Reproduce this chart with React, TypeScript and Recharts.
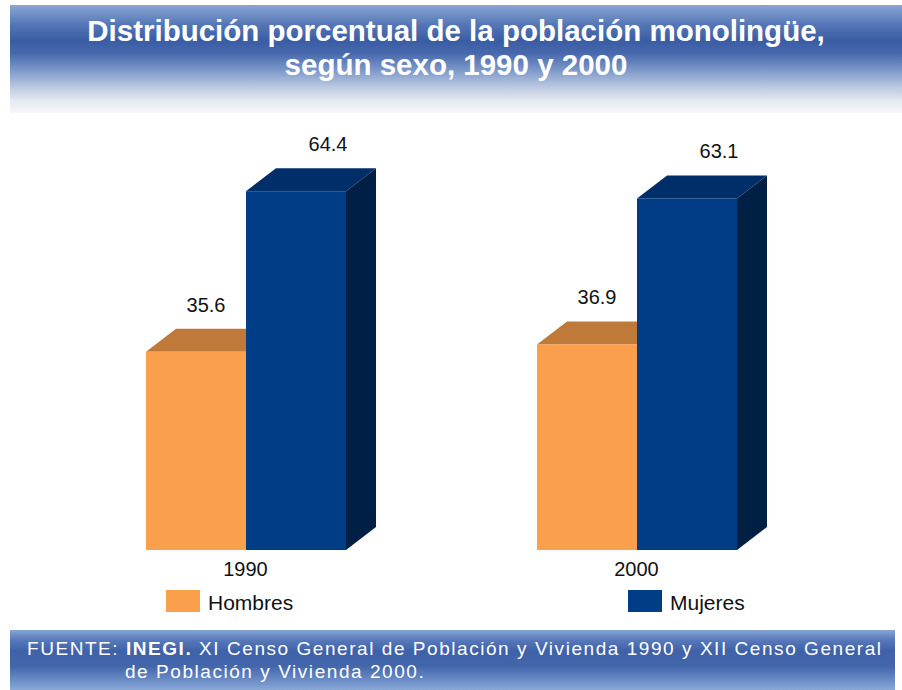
import React from "react";
import { BarChart, Bar, XAxis, YAxis, LabelList } from "recharts";

// years on the x axis
const years = ["1990", "2000"];
// percentage of monolingual population by sex
const hombres = [35.6, 36.9];
const mujeres = [64.4, 63.1];

const seriesNames = { hombres: "Hombres", mujeres: "Mujeres" };

const data = years.map((year, i) => ({
  year,
  hombres: hombres[i],
  mujeres: mujeres[i],
}));

const FONT = "'Liberation Sans', Arial, sans-serif";
const DEPTH_X = 30;
const DEPTH_Y = 23;

const palette = {
  hombres: { front: "#FA9F4B", top: "#BF7A3A", side: "#A8662C" },
  mujeres: { front: "#003D87", top: "#002E68", side: "#001F45" },
};

function make3DBar(colors: { front: string; top: string; side: string }) {
  return (props: any) => {
    const { x, y, width, height } = props;
    if (!height || height <= 0) return <g />;
    const top = `M${x},${y} L${x + DEPTH_X},${y - DEPTH_Y} L${x + width + DEPTH_X},${y - DEPTH_Y} L${x + width},${y} Z`;
    const side = `M${x + width},${y} L${x + width + DEPTH_X},${y - DEPTH_Y} L${x + width + DEPTH_X},${y + height - DEPTH_Y} L${x + width},${y + height} Z`;
    return (
      <g>
        <path d={side} fill={colors.side} />
        <path d={top} fill={colors.top} />
        <rect x={x} y={y} width={width} height={height} fill={colors.front} />
      </g>
    );
  };
}

function valueLabel(dx: number) {
  return (props: any) => {
    const { x, y, width, value } = props;
    return (
      <text
        x={x + width / 2 + dx}
        y={y - 40}
        textAnchor="middle"
        fontSize={20}
        fontFamily={FONT}
        fill="#111"
      >
        {value}
      </text>
    );
  };
}

function LegendBox() {
  const items = [
    { name: seriesNames.hombres, color: palette.hombres.front, left: 166, textLeft: 208 },
    { name: seriesNames.mujeres, color: palette.mujeres.front, left: 628, textLeft: 670 },
  ];
  return (
    <div style={{ position: "absolute", left: 0, top: 590, width: 902, height: 30 }}>
      {items.map((it) => (
        <React.Fragment key={it.name}>
          <div
            style={{
              position: "absolute",
              left: it.left,
              top: 0,
              width: 34,
              height: 22,
              background: it.color,
            }}
          />
          <div
            style={{
              position: "absolute",
              left: it.textLeft,
              top: 1,
              fontSize: 21,
              lineHeight: "24px",
              fontFamily: FONT,
              color: "#111",
            }}
          >
            {it.name}
          </div>
        </React.Fragment>
      ))}
    </div>
  );
}

export default function App() {
  return (
    <div
      style={{
        position: "absolute",
        left: 0,
        top: 0,
        width: 902,
        height: 690,
        background: "#fff",
        fontFamily: FONT,
        overflow: "hidden",
      }}
    >
      <div
        style={{
          position: "absolute",
          left: 10,
          top: 5,
          width: 892,
          height: 108,
          background:
            "linear-gradient(to bottom, #8aa6d2 0%, #5577b6 18%, #3a5ca3 33%, #4869ad 45%, #7b97c9 60%, #b7c6e0 75%, #e4e8f0 88%, #f7f7f7 100%)",
        }}
      />
      <div
        style={{
          position: "absolute",
          left: 10,
          top: 14,
          width: 892,
          textAlign: "center",
          color: "#fff",
          fontWeight: "bold",
          fontSize: 29.5,
          lineHeight: "34px",
        }}
      >
        Distribución porcentual de la población monolingüe,
        <br />
        según sexo, 1990 y 2000
      </div>

      <div style={{ position: "absolute", left: 0, top: 0 }}>
        <BarChart
          width={902}
          height={690}
          data={data}
          margin={{ top: 160, right: 70, left: 50, bottom: 110 }}
          barGap={0}
          barSize={100}
        >
          <XAxis
            dataKey="year"
            axisLine={false}
            tickLine={false}
            height={30}
            tickMargin={6}
            tick={{ fontSize: 20, fontFamily: FONT, fill: "#111" }}
          />
          <YAxis hide domain={[0, 70]} />
          <Bar
            dataKey="hombres"
            name={seriesNames.hombres}
            shape={make3DBar(palette.hombres)}
            isAnimationActive={false}
          >
            <LabelList dataKey="hombres" content={valueLabel(10)} />
          </Bar>
          <Bar
            dataKey="mujeres"
            name={seriesNames.mujeres}
            shape={make3DBar(palette.mujeres)}
            isAnimationActive={false}
          >
            <LabelList dataKey="mujeres" content={valueLabel(32)} />
          </Bar>
        </BarChart>
      </div>

      <LegendBox />

      <div
        style={{
          position: "absolute",
          left: 10,
          top: 630,
          width: 885,
          height: 60,
          background:
            "linear-gradient(to bottom, #88a5d4 0%, #5a7cbb 15%, #3f61a8 35%, #4366ab 60%, #6486c2 80%, #8aa8d8 100%)",
        }}
      />
      <div
        style={{
          position: "absolute",
          left: 27,
          top: 637,
          width: 880,
          color: "#fff",
          fontSize: 19,
          lineHeight: "23px",
          letterSpacing: 1.55,
          whiteSpace: "nowrap",
        }}
      >
        FUENTE: <b>INEGI.</b> XI Censo General de Población y Vivienda 1990 y XII Censo General
        <br />
        <span style={{ paddingLeft: 98 }}>de Población y Vivienda 2000.</span>
      </div>
    </div>
  );
}
